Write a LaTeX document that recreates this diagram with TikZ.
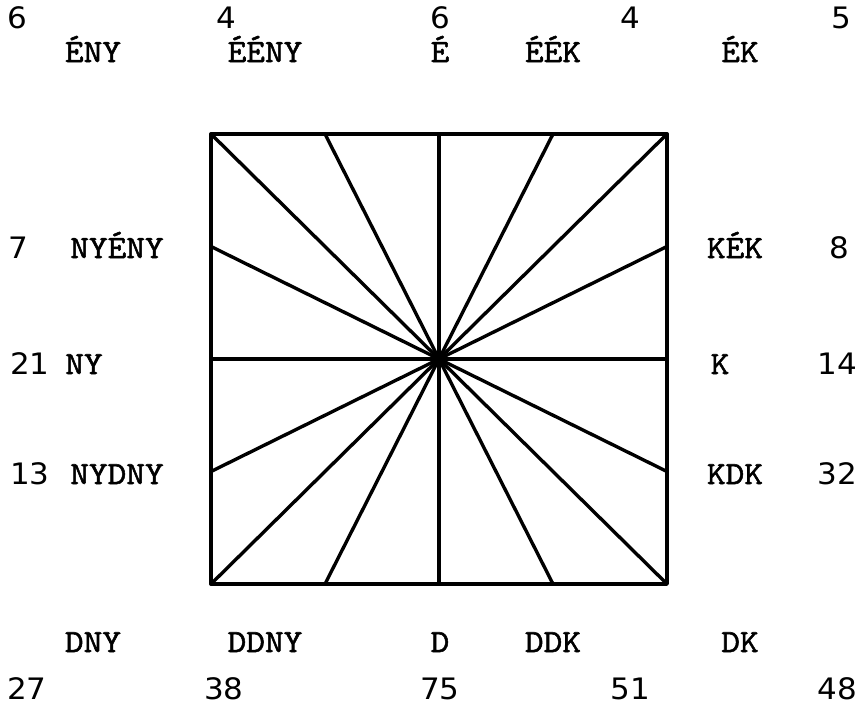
\documentclass[tikz,border=0pt]{standalone}
\usepackage{fontspec}
\usepackage{tikz}
\usetikzlibrary{calc}
\newfontfamily\typer{lmmono10-regular.otf}[FakeStretch=1.1,FakeBold=1.6]
\newfontfamily\digits{DejaVu Sans}[FakeStretch=1.05]

\begin{document}
\begin{tikzpicture}[x=0.025cm,y=-0.025cm,
  dir/.style={font=\typer\fontsize{23}{26}\selectfont,inner sep=0pt,anchor=base},
  num/.style={font=\digits\fontsize{21}{24}\selectfont,inner sep=0pt,anchor=base},
  ray/.style={line width=2.4pt,line cap=round,draw=black}]
  \useasboundingbox (0,0) rectangle (860,711);
  % the square and its centre
  \coordinate (nw) at (211,134);
  \coordinate (ne) at (667,134);
  \coordinate (se) at (667,584);
  \coordinate (sw) at (211,584);
  \coordinate (c) at ($(nw)!0.5!(se)$);
  \draw[ray,line join=round] (nw) -- (ne) -- (se) -- (sw) -- cycle;

  % rays from the centre
  \draw[ray] (c) -- (nw);
  \draw[ray] (c) -- ($(nw)!0.25!(ne)$);
  \draw[ray] (c) -- ($(nw)!0.5!(ne)$);
  \draw[ray] (c) -- ($(nw)!0.75!(ne)$);
  \draw[ray] (c) -- (ne);
  \draw[ray] (c) -- ($(ne)!0.25!(se)$);
  \draw[ray] (c) -- ($(ne)!0.5!(se)$);
  \draw[ray] (c) -- ($(ne)!0.75!(se)$);
  \draw[ray] (c) -- (se);
  \draw[ray] (c) -- ($(sw)!0.75!(se)$);
  \draw[ray] (c) -- ($(sw)!0.5!(se)$);
  \draw[ray] (c) -- ($(sw)!0.25!(se)$);
  \draw[ray] (c) -- (sw);
  \draw[ray] (c) -- ($(nw)!0.75!(sw)$);
  \draw[ray] (c) -- ($(nw)!0.5!(sw)$);
  \draw[ray] (c) -- ($(nw)!0.25!(sw)$);

  % top
  \node[num] (n-eny) at (17,28) {6};
  \node[num] (n-eeny) at (226,28) {4};
  \node[num] (n-e) at (440,28) {6};
  \node[num] (n-eek) at (630,28) {4};
  \node[num] (n-ek) at (841,28) {5};
  \node[dir] (eny) at (93,62) {ÉNY};
  \node[dir] (eeny) at (265,62) {ÉÉNY};
  \node[dir] (e) at (440,62) {É};
  \node[dir] (eek) at (553,62) {ÉÉK};
  \node[dir] (ek) at (740,62) {ÉK};

  % left
  \node[num] (n-nyeny) at (18,258) {7};
  \node[dir] (nyeny) at (117,258) {NYÉNY};
  \node[num] (n-ny) at (30,374) {21};
  \node[dir] (ny) at (84,374) {NY};
  \node[num] (n-nydny) at (30,484) {13};
  \node[dir] (nydny) at (117,484) {NYDNY};

  % right
  \node[dir] (kek) at (735,258) {KÉK};
  \node[num] (n-kek) at (839,258) {8};
  \node[dir] (k) at (720,374) {K};
  \node[num] (n-k) at (837,374) {14};
  \node[dir] (kdk) at (735,484) {KDK};
  \node[num] (n-kdk) at (837,484) {32};

  % bottom
  \node[dir] (dny) at (93,652) {DNY};
  \node[dir] (ddny) at (265,652) {DDNY};
  \node[dir] (d) at (440,652) {D};
  \node[dir] (ddk) at (553,652) {DDK};
  \node[dir] (dk) at (740,652) {DK};
  \node[num] (n-dny) at (27,699) {27};
  \node[num] (n-ddny) at (224,699) {38};
  \node[num] (n-d) at (440,699) {75};
  \node[num] (n-ddk) at (630,699) {51};
  \node[num] (n-dk) at (837,699) {48};
\end{tikzpicture}
\end{document}
